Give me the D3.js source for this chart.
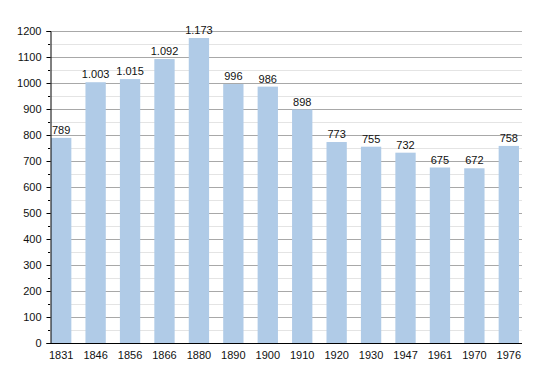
<!DOCTYPE html>
<html>
<head>
<meta charset="utf-8">
<script src="https://cdn.jsdelivr.net/npm/d3@7"></script>
<style>
  body { margin: 0; background: #fff; }
  text { font-family: "Liberation Sans", Arial, sans-serif; }
</style>
</head>
<body>
<script>
var width = 550, height = 373;

/** data **/
var years = ["1831", "1846", "1856", "1866", "1880", "1890", "1900", "1910", "1920", "1930", "1947", "1961", "1970", "1976"];
var population = [789, 1003, 1015, 1092, 1173, 996, 986, 898, 773, 755, 732, 675, 672, 758];
var yTicks = [0, 100, 200, 300, 400, 500, 600, 700, 800, 900, 1000, 1100, 1200];

var margin = { left: 50, right: 28, top: 31, bottom: 30 };

var svg = d3.select("body").append("svg")
    .attr("width", width)
    .attr("height", height);

var x = d3.scaleBand()
    .domain(years)
    .range([margin.left, width - 30])
    .paddingInner(0.41)
    .paddingOuter(0.03);

var y = d3.scaleLinear()
    .domain([0, 1200])
    .range([height - margin.bottom, margin.top]);

// minor grid lines
svg.append("g").selectAll("line")
    .data(d3.range(50, 1200, 100))
    .enter().append("line")
    .attr("x1", margin.left).attr("x2", width - margin.right)
    .attr("y1", d => Math.round(y(d)) + 0.5).attr("y2", d => Math.round(y(d)) + 0.5)
    .attr("stroke", "#e4e4e4");

// major grid lines
svg.append("g").selectAll("line")
    .data(yTicks.slice(1))
    .enter().append("line")
    .attr("x1", margin.left).attr("x2", width - margin.right)
    .attr("y1", d => Math.round(y(d)) + 0.5).attr("y2", d => Math.round(y(d)) + 0.5)
    .attr("stroke", "#a8a8a8");

// bars
svg.append("g").selectAll("rect")
    .data(population)
    .enter().append("rect")
    .attr("x", (d, i) => x(years[i]))
    .attr("width", x.bandwidth())
    .attr("y", d => y(d))
    .attr("height", d => y(0) - y(d))
    .attr("fill", "#b0cbe7");

// value labels
var fmt = d3.formatLocale({ decimal: ",", thousands: ".", grouping: [3], currency: ["", ""] }).format(",d");
svg.append("g").selectAll("text")
    .data(population)
    .enter().append("text")
    .attr("x", (d, i) => x(years[i]) + x.bandwidth() / 2)
    .attr("y", d => y(d) - 4)
    .attr("text-anchor", "middle")
    .attr("font-size", 11)
    .attr("fill", "#111")
    .text(d => fmt(d));

// y axis
var yAxis = svg.append("g")
    .attr("transform", "translate(" + (margin.left + 0.5) + ",0)")
    .call(d3.axisLeft(y).tickValues(yTicks).tickSize(4).tickFormat(d3.format("d")));
yAxis.select(".domain").attr("stroke", "#000");
yAxis.selectAll(".tick text").attr("font-size", 11).attr("fill", "#111")
    .attr("font-family", "Liberation Sans, Arial, sans-serif").attr("x", -9);

// minor ticks on y axis
svg.append("g").selectAll("line")
    .data(d3.range(50, 1200, 100))
    .enter().append("line")
    .attr("x1", margin.left - 2).attr("x2", margin.left)
    .attr("y1", d => Math.round(y(d)) + 0.5).attr("y2", d => Math.round(y(d)) + 0.5)
    .attr("stroke", "#000");

// x axis
var xAxis = svg.append("g")
    .attr("transform", "translate(0," + (Math.round(y(0)) + 0.5) + ")")
    .call(d3.axisBottom(x).tickSize(0).tickSizeOuter(0));
xAxis.select(".domain").attr("stroke", "#000").attr("d", "M" + margin.left + ",0H" + (width - margin.right));
xAxis.selectAll(".tick text").attr("font-size", 11).attr("fill", "#111")
    .attr("font-family", "Liberation Sans, Arial, sans-serif").attr("dy", "1.1em");
</script>
</body>
</html>
